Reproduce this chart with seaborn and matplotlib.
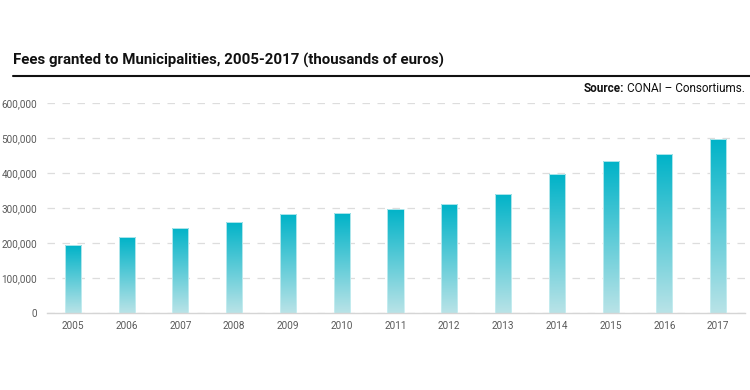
import numpy as np
import pandas as pd
import seaborn as sns
import matplotlib as mpl
mpl.use('Agg')
import matplotlib.pyplot as plt
from matplotlib.colors import LinearSegmentedColormap
from matplotlib.ticker import FuncFormatter

# data (thousands of euros)
years = ['2005', '2006', '2007', '2008', '2009', '2010', '2011',
         '2012', '2013', '2014', '2015', '2016', '2017']
fees = [193000, 216000, 243000, 260000, 282000, 285000, 298000,
        311000, 341000, 396000, 433000, 454000, 498000]

title = 'Fees granted to Municipalities, 2005-2017 (thousands of euros)'

sns.set_theme(style='white')
plt.rcParams['font.family'] = ['Roboto', 'DejaVu Sans']

df = pd.DataFrame({'year': years, 'fees': fees})

fig = plt.figure(figsize=(7.5, 3.9), dpi=100)
ax = fig.add_axes([0.0627, 0.1974, 0.9307, 0.5385])

sns.barplot(data=df, x='year', y='fees', ax=ax, width=0.3,
            color='#00b2c8', saturation=1, zorder=3)

# gradient fill inside each bar
cmap = LinearSegmentedColormap.from_list('teal', ['#b9e3e7', '#00b3c8'])
grad = np.linspace(0, 1, 256).reshape(-1, 1)
for p in ax.patches:
    x0, y0 = p.get_x(), p.get_y()
    w, h = p.get_width(), p.get_height()
    p.set_facecolor('none')
    p.set_edgecolor('#c8eef1')
    p.set_linewidth(0.6)
    im = ax.imshow(grad, cmap=cmap, origin='lower', aspect='auto',
                   extent=[x0, x0 + w, y0, y0 + h], zorder=2)
    im.set_clip_path(p)

ax.set_xlim(-0.48, 12.5)
ax.set_ylim(0, 600000)
ax.set_yticks(range(0, 600001, 100000))
ax.yaxis.set_major_formatter(FuncFormatter(lambda v, _: f'{int(v):,}'))
ax.grid(axis='y', color='#dddddd', linestyle=(0, (6, 6)), linewidth=0.9, zorder=0)
ax.set_axisbelow(True)
for s in ['top', 'right', 'left']:
    ax.spines[s].set_visible(False)
ax.spines['bottom'].set_color('#d5d5d5')
ax.spines['bottom'].set_linewidth(1)
ax.tick_params(axis='both', length=0, labelsize=7.2, colors='#5a5a5a')
ax.tick_params(axis='x', pad=6)
ax.tick_params(axis='y', pad=7)
ax.set_xlabel('')
ax.set_ylabel('')

# header
fig.text(13 / 750, 1 - 60 / 390, title, fontsize=10.8, fontweight='bold',
         color='#111111', va='center', ha='left')
fig.add_artist(plt.Line2D([13 / 750, 1.0], [1 - 76 / 390, 1 - 76 / 390],
                          color='#111111', linewidth=1.5))
src_y = 1 - 89 / 390
t2 = fig.text(745 / 750, src_y, 'CONAI \u2013 Consortiums.', fontsize=8.5,
              color='#111111', ha='right', va='center')
fig.canvas.draw()
bb = t2.get_window_extent()
fig.text(bb.x0 / 750 - 0.004, src_y, 'Source:', fontsize=8.5, fontweight='bold',
         color='#111111', ha='right', va='center')

plt.savefig('out.png', dpi=100)
